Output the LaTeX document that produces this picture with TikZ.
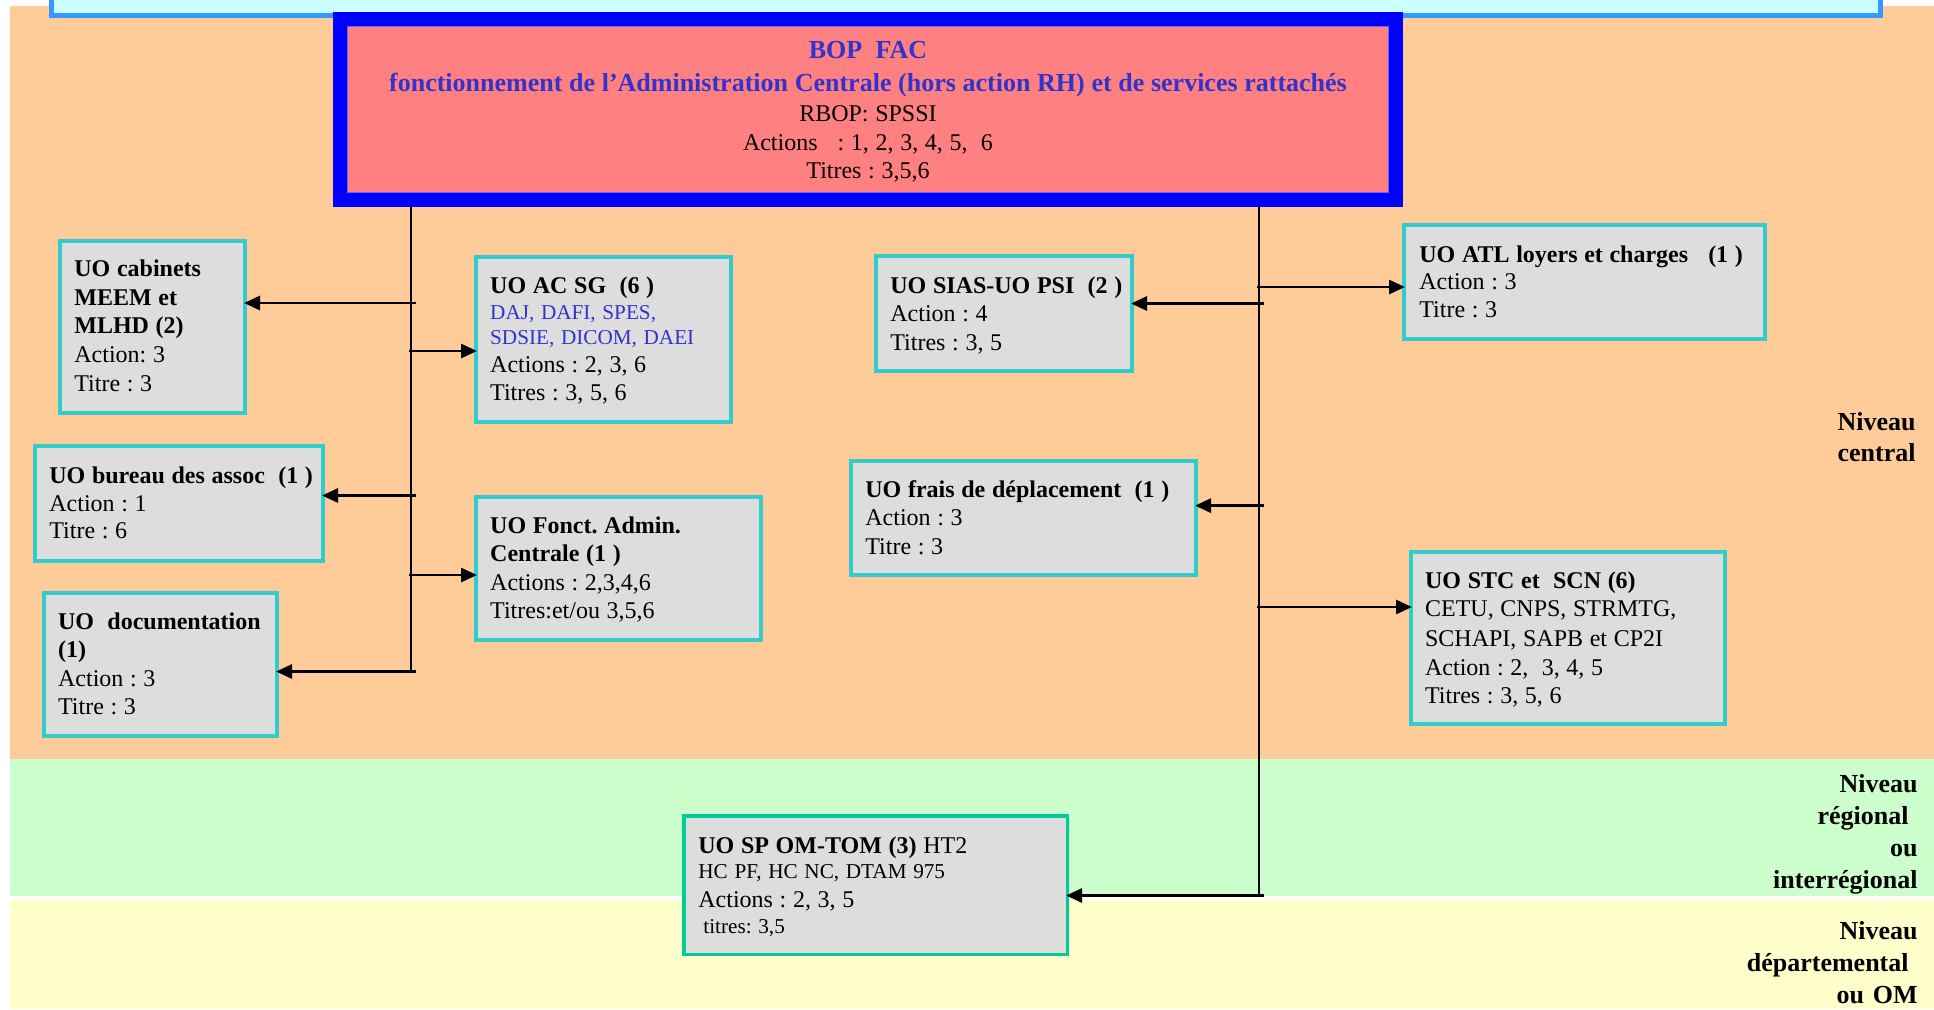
\documentclass[tikz,border=0pt]{standalone}
\usepackage{fontspec}
\setmainfont{Liberation Serif}
\usetikzlibrary{arrows.meta,fit}
\definecolor{bandorange}{RGB}{255,204,153}
\definecolor{bandgreen}{RGB}{204,255,204}
\definecolor{bandyellow}{RGB}{255,255,204}
\definecolor{barfill}{RGB}{204,255,255}
\definecolor{barline}{RGB}{51,153,255}
\definecolor{bopblue}{RGB}{0,0,255}
\definecolor{bopred}{RGB}{255,128,128}
\definecolor{bopedge}{RGB}{110,100,240}
\definecolor{titleblue}{RGB}{51,51,204}
\definecolor{uofill}{RGB}{221,221,221}
\definecolor{uoline}{RGB}{51,204,204}
\definecolor{spline}{RGB}{0,204,153}
\newcommand\bxl[3]{{\fontsize{#1}{#2}\selectfont\leavevmode #3\par}}
\tikzset{
  uobox/.style={draw=uoline, fill=uofill, line width=2pt, inner sep=0pt},
  spbox/.style={draw=spline, fill=uofill, line width=1.75pt, inner sep=0pt},
  uotext/.style={anchor=base west, inner sep=0pt, text width=250pt, align=left},
  trunk/.style={line width=1.4pt, draw=black},
  arr/.style={line width=1.45pt, draw=black, shorten >=-1.5pt, -{Triangle[length=8pt,width=7pt]}},
  niv/.style={anchor=base east, inner sep=0pt, text width=150pt, align=right}
}
\begin{document}
\frenchspacing
\begin{tikzpicture}[x=0.5pt,y=-0.5pt]
\clip (0,0) rectangle (1934,1009);
\fill[white] (0,0) rectangle (1934,1009);
% level bands
\fill[bandorange] (10,6) rectangle (1934,759);
\fill[bandgreen] (10,759) rectangle (1934,896);
\fill[bandyellow] (10,900) rectangle (1934,1009);
% top bar
\draw[draw=barline, fill=barfill, line width=2.5pt] (51.5,-10) rectangle (1880.5,15.5);
% BOP box
\node[draw=bopblue, fill=bopred, line width=7pt, inner sep=0pt, fit={(340,19) (1396,200)}] (bop) {};
\draw[bopedge, line width=0.5pt] (347.5,26.5) rectangle (1388.5,192.5);
\node[anchor=base, inner sep=0pt, text width=600pt, align=center] (boptxt) at (868,58.3) {%
\bxl{13}{16}{\bfseries\color{titleblue}BOP\ \ FAC}%
\bxl{13}{16.35}{\bfseries\color{titleblue}fonctionnement de l'Administration Centrale (hors action RH) et de services rattachés}%
\bxl{12}{15.35}{RBOP: SPSSI}%
\bxl{12}{14.15}{Actions\ \ \ : 1, 2, 3, 4, 5,\ \ 6}%
\bxl{12}{14}{Titres : 3,5,6}};
% UO boxes
\node[uobox, fit={(60,241) (245,413)}] (cab) {};
\node[uobox, fit={(476,257) (731,422)}] (acsg) {};
\node[uobox, fit={(35,446) (323,561)}] (bur) {};
\node[uobox, fit={(476,497) (761,640)}] (fonct) {};
\node[uobox, fit={(44,593) (277,736)}] (doc) {};
\node[uobox, fit={(876,256) (1132,371)}] (sias) {};
\node[uobox, fit={(1404,225) (1765,339)}] (atl) {};
\node[uobox, fit={(851,461) (1196,575)}] (frais) {};
\node[uobox, fit={(1411,552) (1725,724)}] (stc) {};
\node[spbox, fit={(683.75,815.75) (1067.25,954.25)}] (sp) {};
% texts
\node[uotext] (cabt) at (74,276.8) {%
\bxl{12}{14.3}{\bfseries UO cabinets}%
\bxl{12}{14.2}{\bfseries MEEM et}%
\bxl{12}{14.35}{\bfseries MLHD (2)}%
\bxl{12}{14.25}{Action: 3}%
\bxl{12}{14.4}{Titre : 3}};
\node[uotext] (acsgt) at (489.8,293) {%
\bxl{12}{14.3}{\bfseries UO AC SG\ \ (6 )}%
\bxl{10.6}{13.45}{\color{titleblue}DAJ, DAFI, SPES,}%
\bxl{10.6}{12.05}{\color{titleblue}SDSIE, DICOM, DAEI}%
\bxl{12}{14.3}{Actions : 2, 3, 6}%
\bxl{12}{13.75}{Titres : 3, 5, 6}};
\node[uotext] (burt) at (49,483.5) {%
\bxl{12}{14.3}{\bfseries UO bureau des assoc\ \ (1 )}%
\bxl{12}{13.75}{Action : 1}%
\bxl{12}{13.8}{Titre : 6}};
\node[uotext] (fonctt) at (489.8,533.4) {%
\bxl{12}{14.3}{\bfseries UO Fonct. Admin.}%
\bxl{12}{14.1}{\bfseries Centrale (1 )}%
\bxl{12}{14.2}{Actions : 2,3,4,6}%
\bxl{12}{14.4}{Titres:et/ou 3,5,6}};
\node[uotext] (doct) at (57.7,629) {%
\bxl{12}{14.3}{\bfseries UO\ \ documentation}%
\bxl{12}{14.2}{\bfseries (1)}%
\bxl{12}{14.3}{Action : 3}%
\bxl{12}{14}{Titre : 3}};
\node[uotext] (siast) at (890,293.6) {%
\bxl{12}{14.3}{\bfseries UO SIAS-UO PSI\ \ (2 )}%
\bxl{12}{13.9}{Action : 4}%
\bxl{12}{14.3}{Titres : 3, 5}};
\node[uotext] (atlt) at (1419,262.5) {%
\bxl{12}{14.3}{\bfseries UO ATL loyers et charges\ \ \ (1 )}%
\bxl{12}{13.25}{Action : 3}%
\bxl{12}{14.4}{Titre : 3}};
\node[uotext] (fraist) at (865,497) {%
\bxl{12}{14.3}{\bfseries UO frais de déplacement\ \ (1 )}%
\bxl{12}{14.35}{Action : 3}%
\bxl{12}{14.15}{Titre : 3}};
\node[uotext] (stct) at (1424.7,588) {%
\bxl{12}{14.3}{\bfseries UO STC et\ \ SCN (6)}%
\bxl{12}{14.35}{CETU, CNPS, STRMTG,}%
\bxl{12}{14.65}{SCHAPI, SAPB et CP2I}%
\bxl{12}{14.5}{Action : 2,\ \ 3, 4, 5}%
\bxl{12}{14.25}{Titres : 3, 5, 6}};
\node[uotext] (spt) at (698,853) {%
\bxl{12}{14.3}{{\bfseries UO SP OM-TOM (3)} HT2}%
\bxl{10.6}{12.5}{HC PF, HC NC, DTAM 975}%
\bxl{12}{14.5}{Actions : 2, 3, 5}%
\bxl{10.6}{13}{\hspace*{2.5pt}titres: 3,5}};
% level labels
\node[niv, font=\fontsize{13}{15.5}\selectfont\bfseries] (nivc) at (1916,430.7) {Niveau\\central};
\node[niv, font=\fontsize{13}{16}\selectfont\bfseries] (nivr) at (1918,792) {Niveau\\régional\hspace*{4.5pt}\null\\ou\\interrégional};
\node[niv, font=\fontsize{13}{16}\selectfont\bfseries] (nivd) at (1918,939.5) {Niveau\\départemental\hspace*{4.5pt}\null\\ou OM};
% trunks
\coordinate (tL) at (411,672);
\coordinate (tR) at (1259,896);
\draw[trunk] (bop.south -| tL) -- (tL);
\draw[trunk] (bop.south -| tR) -- (tR);
% arrows from left trunk
\coordinate (aCab) at (416,303);
\coordinate (aAcsg) at (409,351);
\coordinate (aBur) at (416,495.5);
\coordinate (aFonct) at (409,575);
\coordinate (aDoc) at (416,671.5);
\draw[arr] (aCab) -- (aCab -| cab.east);
\draw[arr] (aAcsg) -- (aAcsg -| acsg.west);
\draw[arr] (aBur) -- (aBur -| bur.east);
\draw[arr] (aFonct) -- (aFonct -| fonct.west);
\draw[arr] (aDoc) -- (aDoc -| doc.east);
% arrows from right trunk
\coordinate (aAtl) at (1257,287);
\coordinate (aSias) at (1264,303.5);
\coordinate (aFrais) at (1264,505.6);
\coordinate (aStc) at (1257,607);
\coordinate (aSp) at (1264,895.5);
\draw[arr] (aAtl) -- (aAtl -| atl.west);
\draw[arr] (aSias) -- (aSias -| sias.east);
\draw[arr] (aFrais) -- (aFrais -| frais.east);
\draw[arr] (aStc) -- (aStc -| stc.west);
\draw[arr] (aSp) -- (aSp -| sp.east);
\end{tikzpicture}
\end{document}
